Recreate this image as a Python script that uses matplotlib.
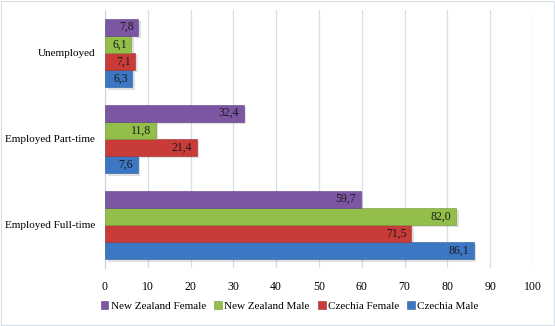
import numpy as np
import matplotlib.pyplot as plt
from matplotlib.patches import Rectangle

plt.rcParams['font.family'] = ['Liberation Serif', 'DejaVu Serif']
plt.rcParams['font.size'] = 8

# categories, bottom to top
categories = ['Employed Full-time', 'Employed Part-time', 'Unemployed']

# series, drawn from the bottom of each group upwards
series_names = ['Czechia Male', 'Czechia Female', 'New Zealand Male', 'New Zealand Female']
czechia_male = [86.1, 7.6, 6.3]
czechia_female = [71.5, 21.4, 7.1]
nz_male = [82.0, 11.8, 6.1]
nz_female = [59.7, 32.4, 7.8]
values = [czechia_male, czechia_female, nz_male, nz_female]
colors = ['#3B77C3', '#C93B39', '#93BE4A', '#7C56A3']
edge_dark = ['#2B5C99', '#9A2B2A', '#6F9535', '#5C3D7D']

xticks = list(range(0, 101, 10))

fig = plt.figure(figsize=(5.55, 3.26), dpi=100)
ax = fig.add_axes([105/555, 1 - 268/326, (533-105)/555, (268-10)/326])

y = np.arange(len(categories))
h = 0.2
for i, (name, vals) in enumerate(zip(series_names, values)):
    pos = y - 0.3 + i * h
    # shadow under each bar
    ax.barh(pos - 0.025, vals, height=h, left=0.6, color='#000000', alpha=0.12,
            zorder=2)
    ax.barh(pos, vals, height=h, color=colors[i], edgecolor=edge_dark[i],
            linewidth=0.4, label=name, zorder=3)
    for p, v in zip(pos, vals):
        ax.text(v - 1.0, p, f'{v:.1f}'.replace('.', ','), ha='right', va='center',
                fontsize=8.5, color='#1a1a1a', zorder=4)

ax.set_xlim(0, 100)
ax.set_ylim(-0.5, 2.5)
ax.set_xticks(xticks)
ax.set_yticks(y)
ax.set_yticklabels(categories, fontsize=8)
ax.tick_params(axis='x', labelsize=8.5)
ax.grid(axis='x', color='#D5DFEC', linewidth=0.9, zorder=0)
ax.set_axisbelow(True)
for s in ['top', 'right', 'bottom']:
    ax.spines[s].set_visible(False)
ax.spines['left'].set_color('#C9D5E6')
ax.tick_params(axis='y', length=0, pad=7)
ax.tick_params(axis='x', length=0, pad=9)

handles, labels = ax.get_legend_handles_labels()
fig.legend(handles[::-1], labels[::-1], loc='center', bbox_to_anchor=(0.522, 1 - 306/326),
           ncol=4, frameon=False, handlelength=0.7, handleheight=0.7,
           handletextpad=0.2, columnspacing=0.75, fontsize=8)

# chart frame
fig.patches.append(Rectangle((0.001, 0.004), 0.998, 0.994, transform=fig.transFigure,
                             fill=False, edgecolor='#D9DEE6', linewidth=0.8))

fig.savefig('out.png', dpi=100)
